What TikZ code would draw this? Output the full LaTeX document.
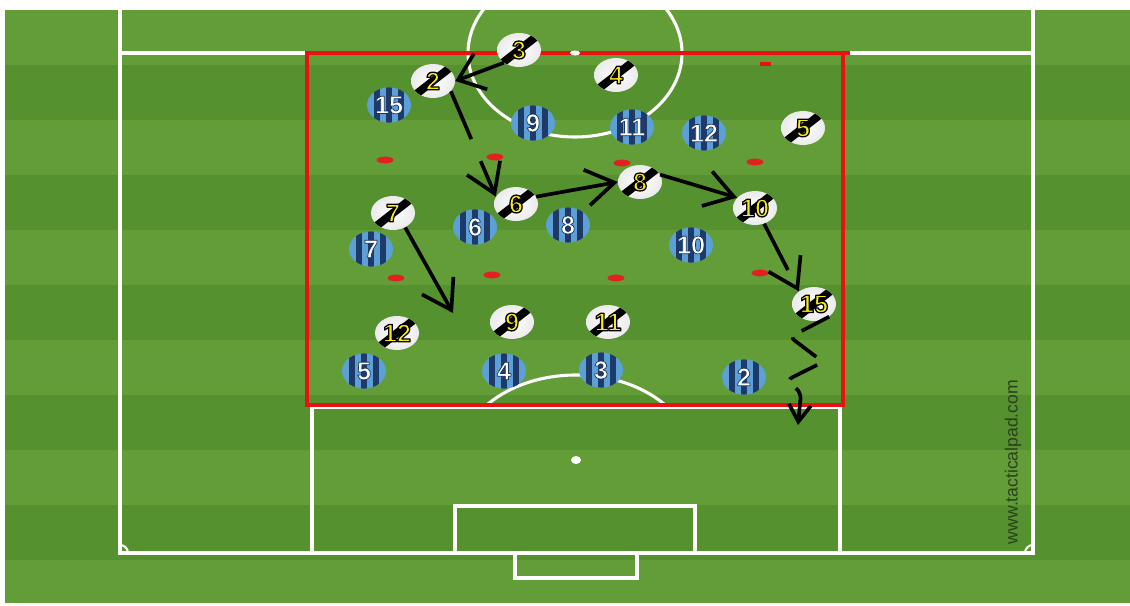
\documentclass[tikz,border=0pt]{standalone}
\usepackage{fontspec}
\setmainfont{Liberation Sans}
\usepackage{tikz}
\usetikzlibrary{arrows.meta, shapes.geometric, calc}
\definecolor{grasslight}{RGB}{99,157,56}
\definecolor{grassdark}{RGB}{86,145,47}
\definecolor{zonered}{RGB}{232,18,18}
\definecolor{conered}{RGB}{226,32,32}
\definecolor{kitlight}{RGB}{92,160,215}
\definecolor{kitdark}{RGB}{30,58,105}
\definecolor{numyellow}{RGB}{250,232,30}
\definecolor{markgreen}{RGB}{40,64,30}

% text filled and stroked: stroke width, rim colour as "r g b", text
\newcommand\rimmed[3]{%
  \special{pdf:literal direct 2 Tr #1 w 1 j #2 RG}#3%
  \special{pdf:literal direct 0 Tr}}
\newcommand\homeman[4]{% name, x, y, number
  \node[homekit] (#1) at (#2,#3) {};
  \node[numtext, text=white] at (#1.center) {\rimmed{0.5}{0.1 0.2 0.38}{#4}};
}
\newcommand\awayman[4]{% name, x, y, number
  \node[awaykit] (#1) at (#2,#3) {};
  \node[numtext, text=numyellow] at (#1.center) {\rimmed{0.9}{0 0 0}{#4}};
}

\begin{document}
\begin{tikzpicture}[x=0.025cm, y=-0.025cm,
  pitchline/.style={draw=white, line width=2.2pt},
  zone/.style={draw=zonered, line width=3.2pt},
  cone/.style={ellipse, fill=conered, minimum width=0.42cm,
               minimum height=0.17cm, inner sep=0pt},
  homekit/.style={ellipse, inner sep=0pt, minimum width=1.1cm,
                  minimum height=0.88cm, fill=kitlight,
                  path picture={
                    \foreach \a/\b in {-0.365/-0.235,-0.065/0.065,0.235/0.365}
                      \fill[kitdark] ([xshift=\a cm]path picture bounding box.north)
                        rectangle ([xshift=\b cm]path picture bounding box.south);}},
  awaykit/.style={ellipse, inner sep=0pt, minimum width=1.1cm,
                  minimum height=0.85cm, inner color=white, outer color=black!8,
                  path picture={
                    \coordinate (pc) at (path picture bounding box.center);
                    \fill[black] ($(pc)+(38:1cm)+(128:0.1cm)$)
                      -- ($(pc)+(38:1cm)+(-52:0.1cm)$)
                      -- ($(pc)+(218:1cm)+(-52:0.1cm)$)
                      -- ($(pc)+(218:1cm)+(128:0.1cm)$) -- cycle;}},
  numtext/.style={font=\fontsize{18}{18}\selectfont\bfseries, inner sep=0pt},
  pass/.style={draw=black, line width=2.6pt,
               -{Straight Barb[length=0.7cm,width=0.9cm]}},
  dribble/.style={pass, dash pattern=on 37pt off 17pt},
  weave/.style={draw=black, line width=2.6pt, rounded corners=4pt,
                dash pattern=on 22pt off 8pt,
                -{Straight Barb[length=0.42cm,width=0.55cm]}},
]
\useasboundingbox (0,0) rectangle (1130,605);

% Grass
\fill[grasslight] (5,10) rectangle (1130,603);
\foreach \k in {0,...,5}
  \fill[grassdark] (5,{65+110*\k}) rectangle (1130,{120+110*\k});

% ── Pitch markings ──
\begin{scope}
  \clip (5,10) rectangle (1130,603);
  \draw[pitchline] (120,0) -- (120,553) -- (1033,553) -- (1033,0);
  \draw[pitchline] (120,53) -- (1033,53);
  \draw[pitchline] (575,53) ellipse [x radius=107, y radius=84];
  \draw[pitchline] (312,553) -- (312,407) -- (840,407) -- (840,553);
  \draw[pitchline] (455,553) -- (455,506) -- (695,506) -- (695,553);
  \draw[pitchline] (515,553) -- (515,578) -- (637,578) -- (637,553);
  \fill[white] (576,460) ellipse [x radius=5, y radius=4];
  \draw[pitchline, line width=1.5pt] (128,553) arc [start angle=0, end angle=-90, radius=8];
  \draw[pitchline, line width=1.5pt] (1025,553) arc [start angle=180, end angle=270, radius=8];
  \clip (0,0) rectangle (1130,407);
  \draw[pitchline] (576,460) ellipse [x radius=117, y radius=85];
\end{scope}

% Training zone
\draw[zone] (850,53) -- (307,53) -- (307,405) -- (843,405) -- (843,53);
\fill[zonered] (760,62) rectangle (771,66);
\fill[white] (575,53) ellipse [x radius=5, y radius=2.5];

% Cones
\foreach \x/\y [count=\i] in {385/160,495/157,622/163,755/162,
                              396/278,492/275,616/278,760/273}
  \node[cone] (cone\i) at (\x,\y) {};

% ── Blue team ──
\homeman{h15}{389}{105}{15}
\homeman{h9}{533}{123}{9}
\homeman{h11}{632}{127}{11}
\homeman{h12}{704}{133}{12}
\homeman{h6}{475}{227}{6}
\homeman{h8}{568}{225}{8}
\homeman{h7}{371}{249}{7}
\homeman{h10}{691}{245}{10}
\homeman{h5}{364}{371}{5}
\homeman{h4}{504}{371}{4}
\homeman{h3}{601}{370}{3}
\homeman{h2}{744}{377}{2}

% ── White team ──
\awayman{w3}{519}{50}{3}
\awayman{w2}{433}{81}{2}
\awayman{w4}{616}{75}{4}
\awayman{w5}{803}{128}{5}
\awayman{w8}{640}{182}{8}
\awayman{w10}{755}{208}{10}
\awayman{w6}{516}{204}{6}
\awayman{w7}{393}{213}{7}
\awayman{w12}{397}{333}{12}
\awayman{w9}{512}{322}{9}
\awayman{w11}{608}{322}{11}
\awayman{w15}{814}{304}{15}

% ── Moves ──
\coordinate (run7) at (453,313);
\coordinate (run15) at (798,425);
\draw[pass, -{Straight Barb[length=0.6cm,width=0.95cm]}] (w3.220) -- (w2.east);
\draw[dribble] (w2.-30) -- (w6.160);
\draw[pass] (w6.20) -- (w8.west);
\draw[pass] (w8.20) -- (w10.150);
\draw[pass] (w7.-50) -- (run7);
\draw[dribble] (w10.-60) -- (w15.140);
\draw[weave] (w15.-40) -- (790,337) -- (823,362) -- (787,380) -- (801,393) -- (run15);

% Watermark
\node[rotate=90, text=markgreen, font=\fontsize{12.5}{12.5}\selectfont]
  (mark) at (1013,462) {www.tacticalpad.com};

\end{tikzpicture}
\end{document}
